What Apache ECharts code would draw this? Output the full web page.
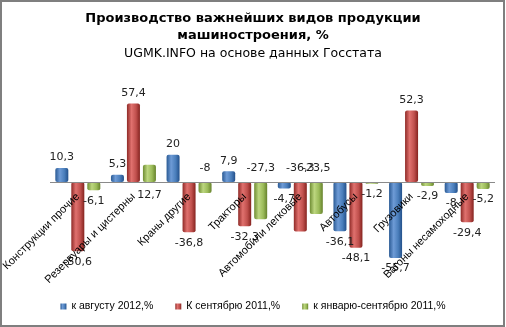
<!DOCTYPE html>
<html>
<head>
<meta charset="utf-8">
<script src="https://cdn.jsdelivr.net/npm/echarts@6/dist/echarts.min.js"></script>
<style>
html,body{margin:0;padding:0;background:#fff;}
#frame{position:absolute;left:0;top:0;width:505px;height:327px;box-sizing:border-box;border:2px solid #7f7f7f;}
#chart{position:absolute;left:0;top:0;width:506px;height:327px;}
</style>
</head>
<body>
<div id="chart"></div>
<div id="frame"></div>
<script>
const categories = ['Конструкции прочие','Резервуары и цистерны','Краны другие','Тракторы','Автомобили легковые','Автобусы','Грузовики','Вагоны несамоходные'];
const seriesNames = ['к августу 2012,%','К сентябрю 2011,%','к январю-сентябрю 2011,%'];
const augValues = [10.3, 5.3, 20, 7.9, -4.7, -36.1, -55.7, -8];
const sepValues = [-50.6, 57.4, -36.8, -32.3, -36.3, -48.1, 52.3, -29.4];
const janSepValues = [-6.1, 12.7, -8, -27.3, -23.5, -1.2, -2.9, -5.2];
// labels that Excel placed on the other side of the axis: [series, category]
const flippedLabels = [[2,1],[2,2],[2,3],[1,4],[2,4]];

const palettes = [
  ['#2a5a94','#6e9bd6','#4a7ebb','#23508a'],
  ['#8f2a27','#e0716e','#c0504d','#85231f'],
  ['#6f8d33','#bcd67f','#9bbb59','#66822c']
];
function grad(p){
  return {type:'linear',x:0,y:0,x2:1,y2:0,colorStops:[
    {offset:0,color:p[0]},{offset:0.35,color:p[1]},{offset:0.7,color:p[2]},{offset:1,color:p[3]}]};
}
const allValues = [augValues, sepValues, janSepValues];
const series = allValues.map((vals, si) => ({
  name: seriesNames[si],
  type: 'bar',
  barWidth: 13,
  barGap: '23%',
  clip: false,
  z: 1,
  itemStyle: {color: grad(palettes[si]), borderRadius: 2},
  label: {
    show: true,
    color: '#222',
    fontSize: 11,
    fontFamily: 'DejaVu Sans',
    distance: 5,
    formatter: p => String(p.value).replace('.', ',')
  },
  data: vals.map((v, ci) => {
    const flipped = flippedLabels.some(f => f[0] === si && f[1] === ci);
    const pos = v >= 0 ? (flipped ? 'bottom' : 'top') : (flipped ? 'top' : 'bottom');
    return {value: v, label: {position: pos, distance: flipped ? 8 : 5}};
  })
}));
series[0].markLine = {
  silent: true, symbol: 'none', label: {show: false},
  lineStyle: {color: '#8a8a8a', type: 'solid', width: 1},
  data: [{yAxis: 0}]
};

const chart = echarts.init(document.getElementById('chart'), null, {renderer:'canvas'});
chart.setOption({
  animation: false,
  color: ['#4a7ebb','#c0504d','#9bbb59'],
  title: [{
    text: 'Производство важнейших видов продукции\nмашиностроения, %',
    left: 'center', top: 5,
    textStyle: {fontFamily:'DejaVu Sans', fontSize: 13, fontWeight:'bold', color:'#000', lineHeight: 17}
  },{
    text: 'UGMK.INFO на основе данных Госстата',
    left: 'center', top: 42,
    textStyle: {fontFamily:'DejaVu Sans', fontSize: 12.5, fontWeight:'normal', color:'#000'}
  }],
  legend: {
    bottom: 10, left: 'center',
    itemWidth: 6, itemHeight: 6, itemGap: 22,
    icon: 'rect',
    textStyle: {fontFamily:'Liberation Sans', fontSize: 10.5, color:'#000'},
    data: seriesNames
  },
  grid: {left: 50, right: 11, top: 100, bottom: 63, outerBoundsMode: 'none', containLabel: false},
  xAxis: {
    type: 'category',
    data: categories,
    z: 10,
    axisLine: {show: false, onZero: false},
    axisTick: {show: false},
    axisLabel: {rotate: 45, interval: 0, margin: -69, fontFamily:'Liberation Sans', fontSize: 11, color:'#000'}
  },
  yAxis: {
    type: 'value', min: -60, max: 60, interval: 20,
    show: false,
    splitLine: {show: false}
  },
  series: series
});
</script>
</body>
</html>
